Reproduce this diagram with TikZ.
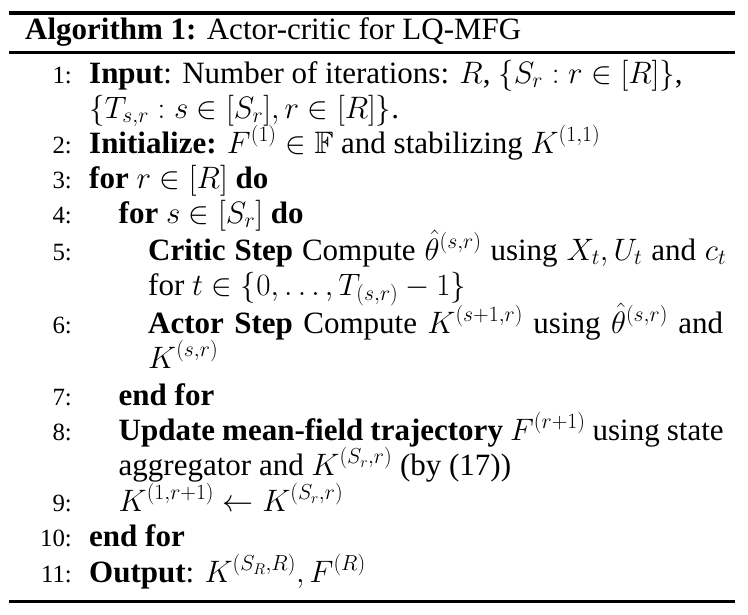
\RequirePackage{fix-cm}
\documentclass[tikz,border=0pt]{standalone}
\usepackage{amsmath,amssymb}
\usepackage{fontspec}
\setmainfont{Liberation Serif}
\tikzset{
  txt/.style={anchor=base west, inner sep=0pt, font=\fontsize{31}{37}\selectfont},
  num/.style={anchor=base east, inner sep=0pt, font=\fontsize{24.8}{29}\selectfont},
  rulebar/.style={fill=black, draw=none},
}
\begin{document}
\begin{tikzpicture}[x=1pt,y=-1pt]
\useasboundingbox (0,0) rectangle (748,614);
% rules
\fill[rulebar] (9,10.5) rectangle (735,14.5);
\fill[rulebar] (9,51) rectangle (735,54);
\fill[rulebar] (9,600) rectangle (735,603);
% heading
\node[txt] (head) at (25,39) {\textbf{Algorithm 1:} Actor-critic for LQ-MFG};
% line numbers
\node[num] (n1) at (72,83) {1:};
\node[num] (n2) at (72,153) {2:};
\node[num] (n3) at (72,188) {3:};
\node[num] (n4) at (72,223) {4:};
\node[num] (n5) at (72,260) {5:};
\node[num] (n6) at (72,333) {6:};
\node[num] (n7) at (72,405) {7:};
\node[num] (n8) at (72,440) {8:};
\node[num] (n9) at (72,511) {9:};
\node[num] (n10) at (72,546) {10:};
\node[num] (n11) at (72,582) {11:};
% lines
\node[txt] (l1) at (89,83) {\textbf{Input}: Number of iterations: $R$, $\{S_r : r\in[R]\}$,};
\node[txt] (l1b) at (89,118) {$\{T_{s,r} : s\in[S_r], r\in[R]\}$.};
\node[txt] (l2) at (89,153) {\textbf{Initialize:} $F^{(1)}\in\mathbb{F}$ and stabilizing $K^{(1,1)}$};
\node[txt] (l3) at (89,188) {\textbf{for} $r\in[R]$ \textbf{do}};
\node[txt] (l4) at (118.5,223) {\textbf{for} $s\in[S_r]$ \textbf{do}};
\node[txt] (l5) at (148,260) {\makebox[578pt][s]{\textbf{Critic Step} Compute $\hat{\theta}^{(s,r)}$ using $X_t, U_t$ and $c_t$}};
\node[txt] (l5b) at (148,295) {for $t\in\{0,\dots,T_{(s,r)}-1\}$};
\node[txt] (l6) at (148,333) {\makebox[575pt][s]{\textbf{Actor Step} Compute $K^{(s+1,r)}$ using $\hat{\theta}^{(s,r)}$ and}};
\node[txt] (l6b) at (148,368) {$K^{(s,r)}$};
\node[txt] (l7) at (118.5,405) {\textbf{end for}};
\node[txt] (l8) at (118.5,440) {\makebox[605pt][s]{\textbf{Update mean-field trajectory} $F^{(r+1)}$ using state}};
\node[txt] (l8b) at (118.5,475) {aggregator and $K^{(S_r,r)}$ (by (17))};
\node[txt] (l9) at (118.5,511) {$K^{(1,r+1)}\leftarrow K^{(S_r,r)}$};
\node[txt] (l10) at (89,546) {\textbf{end for}};
\node[txt] (l11) at (89,582) {\textbf{Output}: $K^{(S_R,R)}, F^{(R)}$};
\end{tikzpicture}
\end{document}
